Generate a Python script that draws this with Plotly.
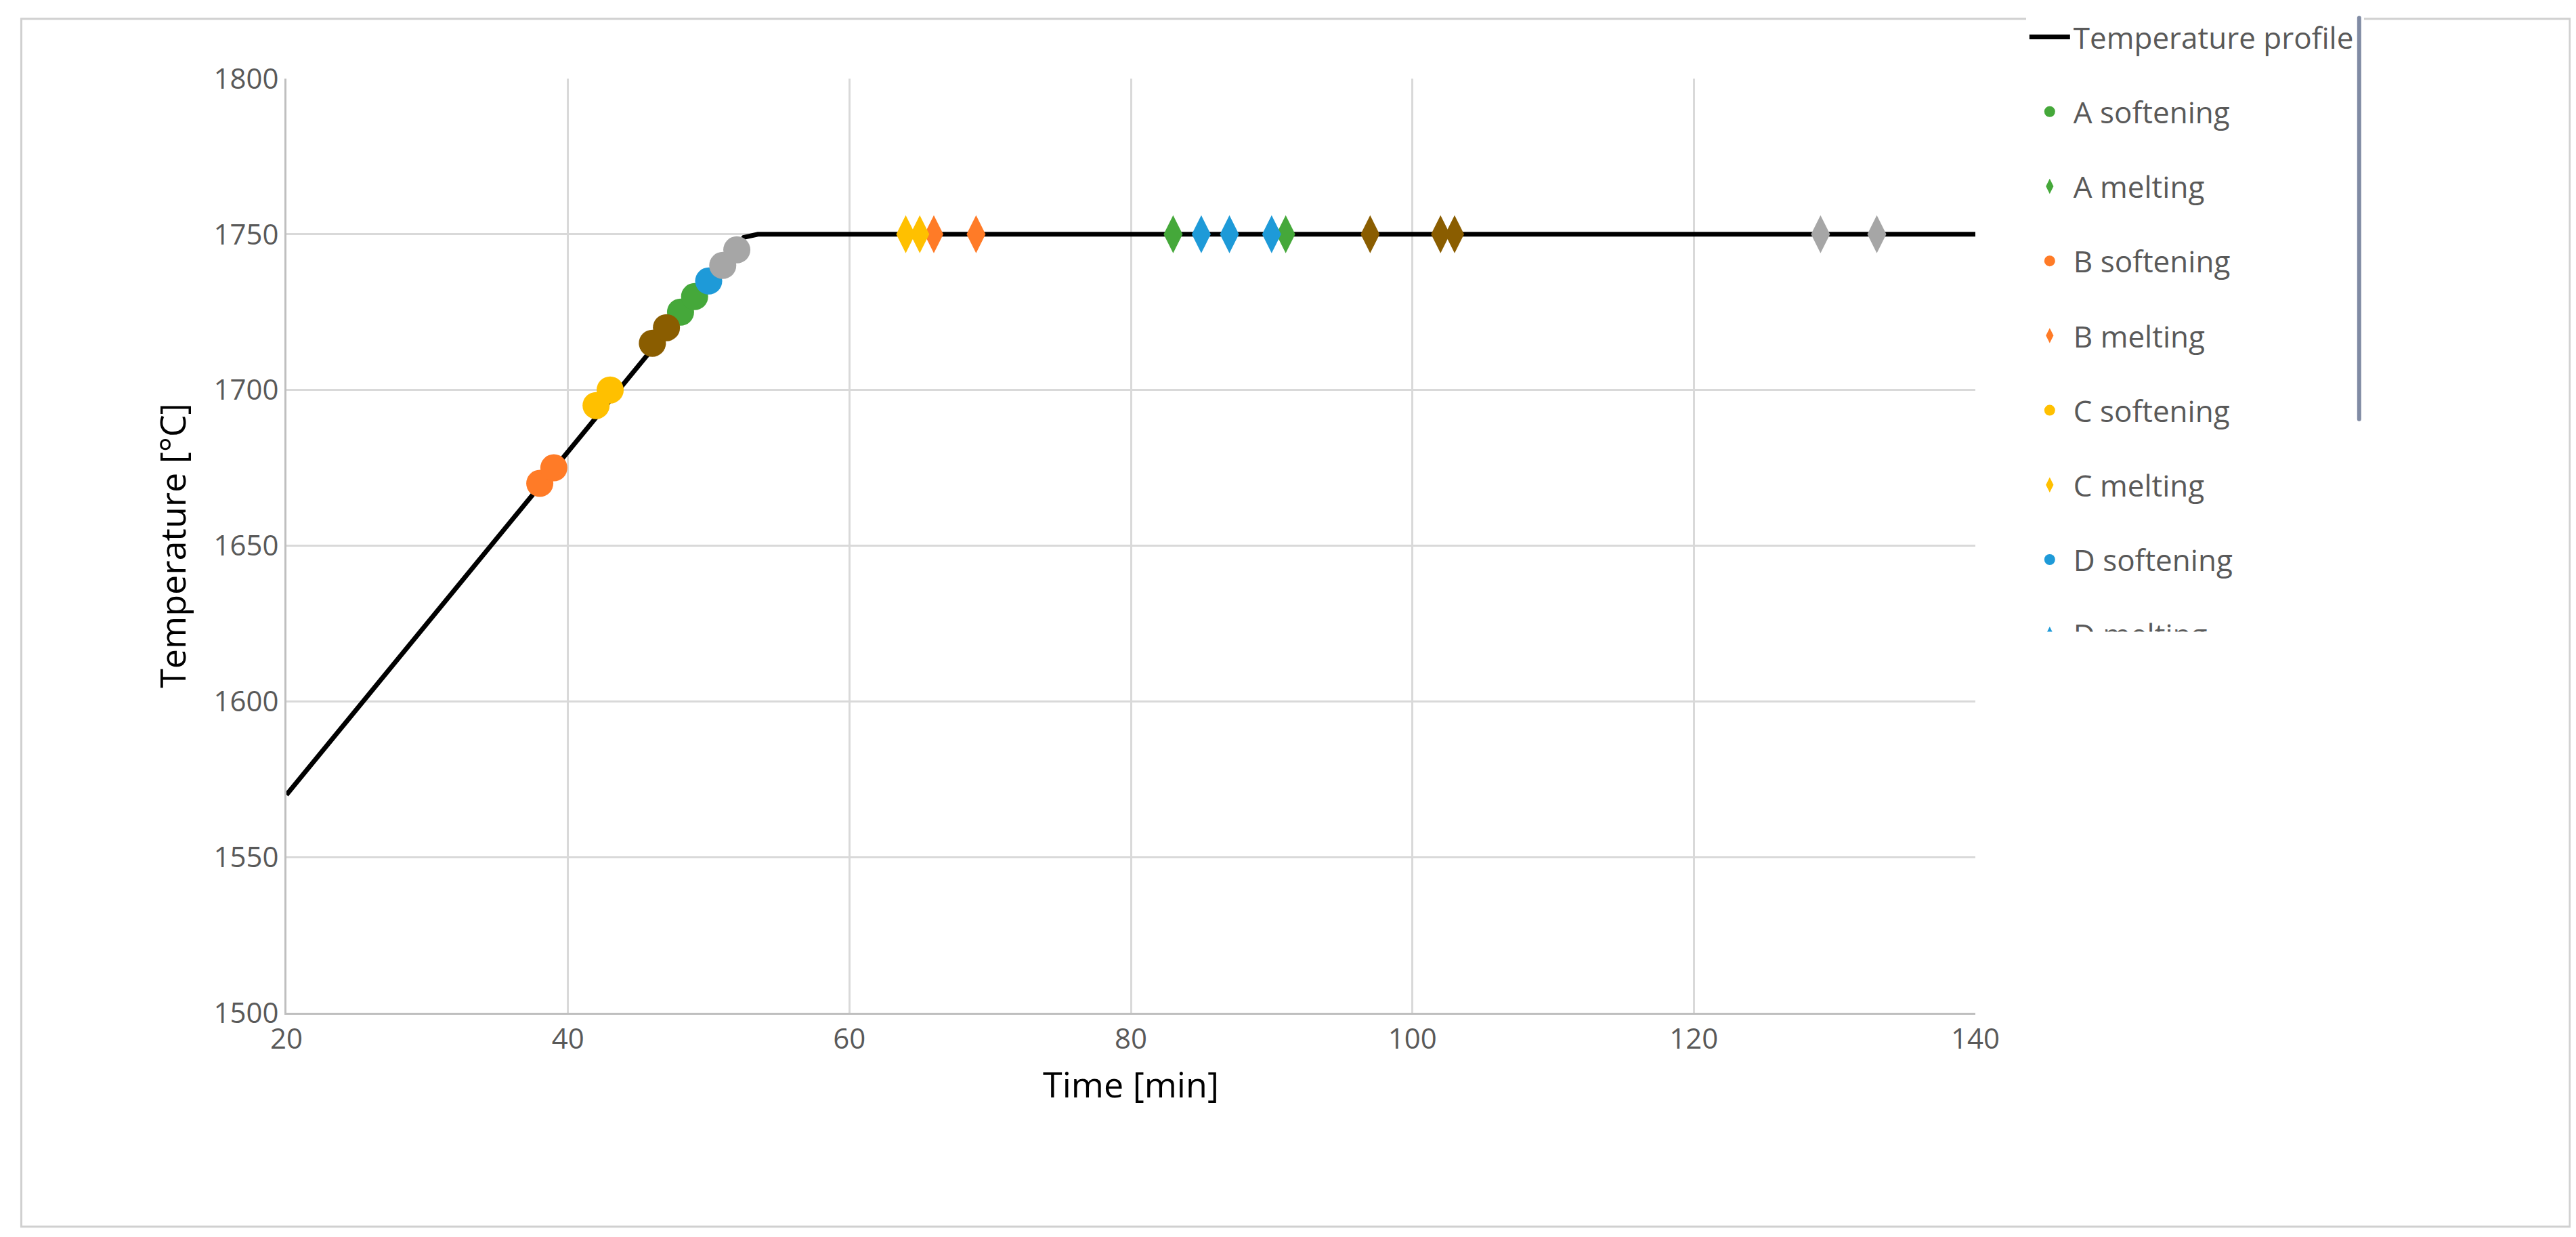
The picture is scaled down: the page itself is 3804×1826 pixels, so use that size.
import plotly.graph_objects as go

profile_t = [20, 52.5, 53.5, 140]
profile_T = [1570, 1749, 1750, 1750]

soft = {
    "A": ([48, 49], [1725, 1730]),
    "B": ([38, 39], [1670, 1675]),
    "C": ([42, 43], [1695, 1700]),
    "D": ([50], [1735]),
    "F": ([46, 47], [1715, 1720]),
    "G": ([51, 52], [1740, 1745]),
}
melt = {
    "A": ([83, 91], [1750, 1750]),
    "B": ([66, 69], [1750, 1750]),
    "C": ([64, 65], [1750, 1750]),
    "D": ([85, 87, 90], [1750, 1750, 1750]),
    "F": ([97, 102, 103], [1750, 1750, 1750]),
    "G": ([129, 133], [1750, 1750]),
}
colors = {"A": "#45A83A", "B": "#FF7B27", "C": "#FFC000", "D": "#1E9AD8",
          "F": "#8A5D00", "G": "#A6A6A6"}

fig = go.Figure()
fig.add_trace(go.Scatter(x=profile_t, y=profile_T, mode="lines", name="Temperature profile",
                         line=dict(color="black", width=7), legendgroup="p"))
for k in ["A", "B", "C", "D", "F", "G"]:
    fig.add_trace(go.Scatter(x=soft[k][0], y=soft[k][1], mode="markers", name=f"{k} softening",
                             marker=dict(symbol="circle", size=40, color=colors[k]),
                             legendgroup=k + "s"))
    fig.add_trace(go.Scatter(x=melt[k][0], y=melt[k][1], mode="markers", name=f"{k} melting",
                             marker=dict(symbol="diamond-tall", size=40, color=colors[k]),
                             legendgroup=k + "m"))

font = "Open Sans, Noto Sans, sans-serif"
fig.update_layout(
    width=3804, height=1826, paper_bgcolor="white", plot_bgcolor="white",
    margin=dict(l=415, r=3804 - 2909, t=105, b=1826 - 1487),
    font=dict(family=font, color="#595959", size=42),
    legend=dict(x=1.03, xanchor="left", y=1.07, yanchor="top", tracegroupgap=50,
                font=dict(size=44, color="#595959"), itemwidth=60),
    xaxis=dict(range=[20, 140], dtick=20, showgrid=True, gridcolor="#D9D9D9", gridwidth=3,
               showline=True, linecolor="#BFBFBF", linewidth=3, zeroline=False, ticks="",
               title=dict(text="Time [min]", font=dict(size=52, color="black"), standoff=25)),
    yaxis=dict(range=[1500, 1800], dtick=50, showgrid=True, gridcolor="#D9D9D9", gridwidth=3,
               showline=True, linecolor="#BFBFBF", linewidth=3, zeroline=False, ticks="",
               title=dict(text="Temperature [°C]", font=dict(size=52, color="black"), standoff=25)),
    shapes=[dict(type="rect", xref="paper", yref="paper", x0=-0.157, x1=1.352, y0=-0.229, y1=1.064,
                 line=dict(color="#D0D0D0", width=3), fillcolor="rgba(0,0,0,0)", layer="below")],
)
fig.write_html("out.html")
